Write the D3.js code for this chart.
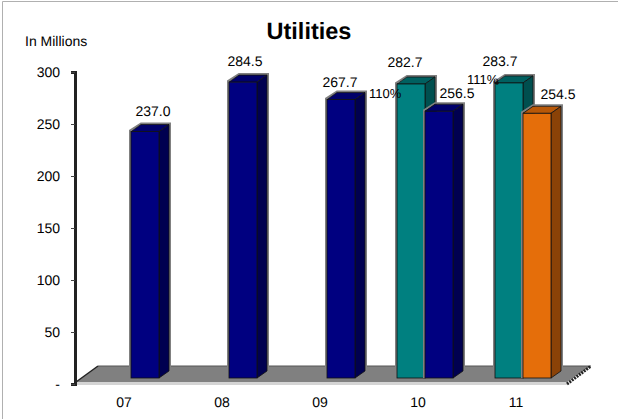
<!DOCTYPE html>
<html><head><meta charset="utf-8">
<script src="https://cdn.jsdelivr.net/npm/d3@7"></script>
<style>html,body{margin:0;padding:0;background:#fff}svg{display:block}text{font-family:"Liberation Sans",Arial,sans-serif;fill:#000;text-rendering:geometricPrecision}</style>
</head><body><svg id="c" width="618" height="419"></svg>
<script>
const categories = ["07","08","09","10","11"];
const planValues = [null,null,null,282.7,283.7];
const actualValues = [237.0,284.5,267.7,256.5,null];
const forecastValues = [null,null,null,null,254.5];
const yTicks = [0,50,100,150,200,250,300];
const faceColors = {plan:["#008080","#006060","#004f4f"],actual:["#000080","#00006a","#000050"],forecast:["#e56e0a","#b85808","#8a4207"]};

const W=618,H=419,depthX=10,depthY=7,floorLift=6;
const svg=d3.select("#c");
const x=d3.scaleBand().domain(categories).range([82,572]);
const slot=d3.scaleBand().domain(["plan","actual"]).range([21,77]);
const y=d3.scaleLinear().domain([0,300]).range([384,72]);

svg.append("path").attr("d",`M2.5,${H} V1.5 H${W}`).attr("fill","none").attr("stroke","#b0b0b0");

// floor
const fl=y(0)-2;
svg.append("polygon").attr("points",[[76,fl],[98,fl-16],[591,fl-16],[567,fl]].join(" ")).attr("fill","#808080");
svg.append("rect").attr("x",76).attr("y",fl).attr("width",491).attr("height",3).attr("fill","#d4d4d4");
svg.append("line").attr("x1",98).attr("x2",591).attr("y1",fl-16).attr("y2",fl-16).attr("stroke","#555");
svg.append("line").attr("x1",76).attr("y1",fl).attr("x2",98).attr("y2",fl-16).attr("stroke","#222").attr("stroke-width",1.5);
svg.append("line").attr("x1",567).attr("y1",fl+2).attr("x2",591).attr("y2",fl-16).attr("stroke","#222").attr("stroke-width",3).attr("stroke-dasharray","2 1");

// axis
const axis=d3.axisLeft(y).tickValues(yTicks).tickSize(4).tickPadding(11).tickFormat(d=>d===0?"-":d);
const gA=svg.append("g").attr("transform","translate(75,0)").call(axis);
gA.select(".domain").attr("stroke","#222").attr("stroke-width",3);
gA.selectAll(".tick line").attr("stroke","#444");
gA.selectAll("text").attr("font-size",14).style("font-family",'"Liberation Sans",Arial,sans-serif').attr("fill","#000");

// category labels
svg.selectAll("text.cat").data(categories).join("text").attr("class","cat")
 .attr("x",d=>x(d)+x.bandwidth()/2-7).attr("y",407).attr("text-anchor","middle").attr("font-size",14).text(d=>d);

// bars
const rows=[];
categories.forEach((c,i)=>{
  if(planValues[i]!=null)rows.push({c,s:"plan",v:planValues[i],slotKey:"plan"});
  if(actualValues[i]!=null)rows.push({c,s:"actual",v:actualValues[i],slotKey:"actual"});
  if(forecastValues[i]!=null)rows.push({c,s:"forecast",v:forecastValues[i],slotKey:"actual"});
});
const g=svg.append("g");
rows.forEach(r=>{
  const x0=x(r.c)+slot(r.slotKey),w=slot.bandwidth(),top=y(r.v)-floorLift,base=y(0)-floorLift;
  const col=faceColors[r.s];
  g.append("path").attr("d",`M${x0-1},${base} V${top-1} L${x0+depthX},${top-depthY-1} H${x0+w+depthX+1} V${base-depthY} L${x0+w},${base}`)
    .attr("fill","none").attr("stroke","#808080").attr("stroke-width",2);
  g.append("polygon").attr("points",[[x0,top],[x0+depthX,top-depthY],[x0+w+depthX,top-depthY],[x0+w,top]].join(" ")).attr("fill",col[1]).attr("stroke","#111").attr("stroke-width",.8);
  g.append("polygon").attr("points",[[x0+w,top],[x0+w+depthX,top-depthY],[x0+w+depthX,base-depthY],[x0+w,base]].join(" ")).attr("fill",col[2]).attr("stroke","#111").attr("stroke-width",.8);
  g.append("rect").attr("x",x0).attr("y",top).attr("width",w).attr("height",base-top).attr("fill",col[0]).attr("stroke","#111").attr("stroke-width",.8);
});

// value labels, nudged by hand as in the reference
const labelNudge={"07actual":[8,-15.5],"08actual":[2,-16],"09actual":[-1,-13],"10plan":[-6,-17],"10actual":[18,-13],"11plan":[-9,-17],"11forecast":[21,-14]};
rows.forEach(r=>{
  const n=labelNudge[r.c+r.s];
  svg.append("text").attr("x",x(r.c)+slot(r.slotKey)+slot.bandwidth()/2+n[0]).attr("y",y(r.v)-floorLift+n[1])
   .attr("text-anchor","middle").attr("font-size",14).text(r.v.toFixed(1));
});
// percentage labels
svg.append("text").attr("x",369).attr("y",98).attr("font-size",13).text("110%");
svg.append("text").attr("x",467).attr("y",84).attr("font-size",13).text("111%");
svg.append("circle").attr("cx",497).attr("cy",83).attr("r",1.8).attr("fill","#111");

svg.append("text").attr("x",309).attr("y",39).attr("text-anchor","middle").attr("font-size",23.5).attr("font-weight","bold").text("Utilities");
svg.append("text").attr("x",25).attr("y",46).attr("font-size",14).text("In Millions");
</script></body></html>
